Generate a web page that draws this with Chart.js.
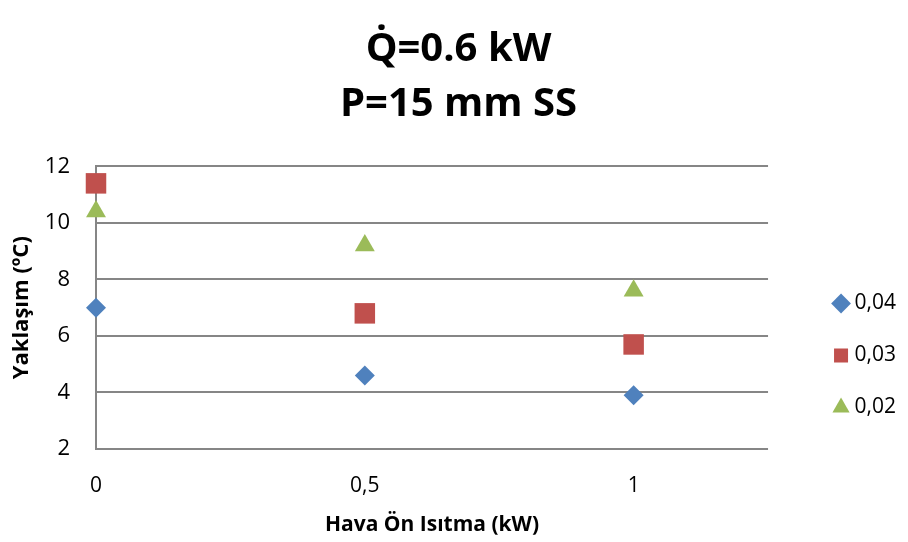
<!DOCTYPE html>
<html>
<head>
<meta charset="utf-8">
<script src="https://cdn.jsdelivr.net/npm/chart.js@4"></script>
<style>
  html, body { margin: 0; padding: 0; background: #fff; }
  #wrap { width: 908px; height: 542px; }
</style>
</head>
<body>
<div id="wrap"><canvas id="chart"></canvas></div>
<script>
// data
const heating = [0, 0.5, 1];
const s004 = [7.0, 4.6, 3.9];
const s003 = [11.4, 6.8, 5.7];
const s002 = [10.4, 9.2, 7.6];
const seriesLabels = ["0,04", "0,03", "0,02"];
const xTicks = [0, 0.5, 1];
const yTicks = [2, 4, 6, 8, 10, 12];

const FONT = "'Open Sans', 'Liberation Sans', sans-serif";

const points = function (ys) {
  return heating.map(function (x, i) { return { x: x, y: ys[i] }; });
};

const mk = function (label, ys, color, style, radius) {
  return {
    label: label,
    data: points(ys),
    backgroundColor: color,
    borderColor: color,
    borderWidth: 0,
    pointStyle: style,
    pointRadius: radius,
    pointHoverRadius: radius,
    showLine: false,
    clip: false,
  };
};

const ctx = document.getElementById("chart").getContext("2d");
const chart = new Chart(ctx, {
  type: "scatter",
  data: {
    datasets: [
      mk(seriesLabels[0], s004, "#4F81BD", "rectRot", 10),
      mk(seriesLabels[1], s003, "#C0504D", "rect", 14.5),
      mk(seriesLabels[2], s002, "#9BBB59", "triangle", 11.5),
    ],
  },
  options: {
    responsive: true,
    maintainAspectRatio: false,
    animation: false,
    layout: { padding: { left: 11, right: 2, top: 0, bottom: 6 } },
    plugins: {
      tooltip: { enabled: false },
      title: {
        display: true,
        text: ["Q\u0307=0.6 kW", "P=15 mm SS"],
        color: "#000",
        font: { family: FONT, size: 40, weight: "bold", lineHeight: 1.38 },
        padding: { top: 22, bottom: 34 },
      },
      legend: {
        position: "right",
        align: "end",
        fullSize: false,
        labels: {
          usePointStyle: true,
          color: "#000",
          font: { family: FONT, size: 21 },
          padding: 31,
          boxWidth: 6,
          boxHeight: 14,
        },
      },
    },
    scales: {
      x: {
        type: "linear",
        min: 0,
        max: 1.25,
        afterBuildTicks: function (scale) {
          scale.ticks = xTicks.map(function (v) { return { value: v }; });
        },
        afterFit: function (scale) { scale.height = 87; },
        grid: { display: false, drawTicks: false },
        border: { display: false },
        ticks: {
          color: "#000",
          font: { family: FONT, size: 21, lineHeight: 1 },
          padding: 27,
          maxRotation: 0,
          callback: function (v) { return String(v).replace(".", ","); },
        },
        title: {
          display: true,
          text: "Hava Ön Isıtma (kW)",
          color: "#000",
          font: { family: FONT, size: 21, weight: "bold", lineHeight: 1 },
          padding: { top: 0, bottom: 0 },
        },
      },
      y: {
        min: 2,
        max: 12,
        afterBuildTicks: function (scale) {
          scale.ticks = yTicks.map(function (v) { return { value: v }; });
        },
        afterFit: function (scale) { scale.width = 85; },
        grid: { color: "#868686", lineWidth: 2, drawTicks: false },
        border: { display: true, color: "#868686", width: 2 },
        ticks: {
          color: "#000",
          font: { family: FONT, size: 22 },
          padding: 26,
        },
        title: {
          display: true,
          text: "Yaklaşım (ºC)",
          color: "#000",
          font: { family: FONT, size: 22, weight: "bold", lineHeight: 1 },
          padding: { top: 0, bottom: 0 },
        },
      },
      // empty strip between the plot and the legend
      gap: {
        type: "linear",
        position: "right",
        display: true,
        grid: { display: false, drawTicks: false },
        border: { display: false },
        ticks: { display: false },
        afterFit: function (scale) { scale.width = 39; },
      },
    },
  },
});
</script>
</body>
</html>
